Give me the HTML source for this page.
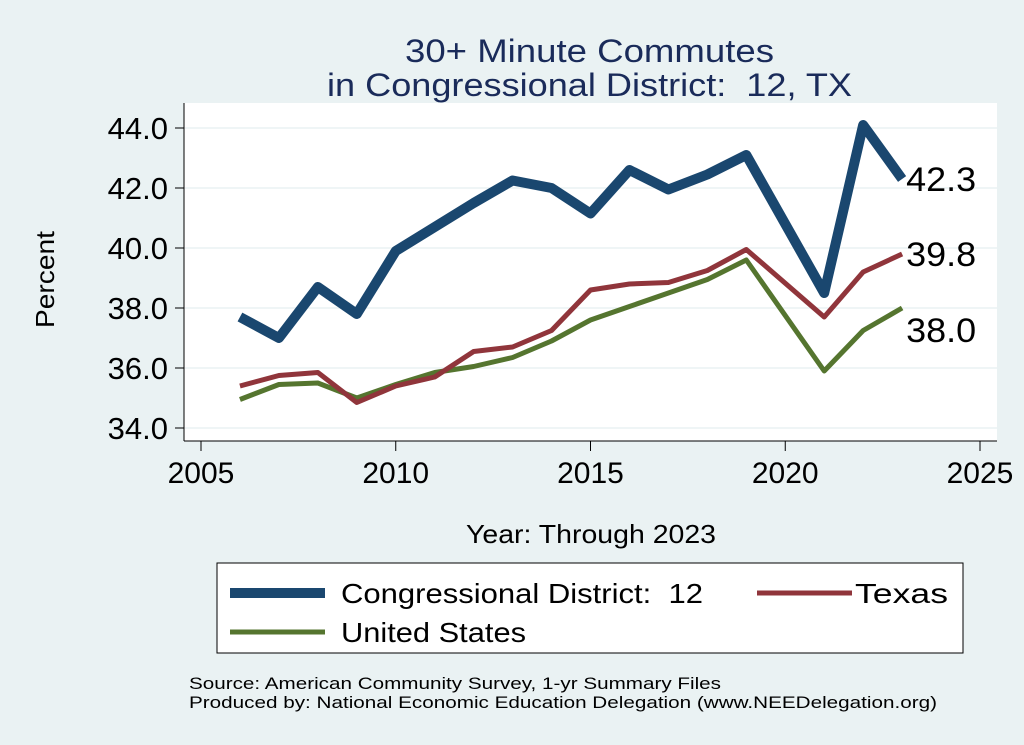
<!DOCTYPE html>
<html><head><meta charset="utf-8"><style>
body{margin:0;background:#eaf2f3;font-family:"Liberation Sans",sans-serif;}
svg{display:block}
text{white-space:pre}
</style></head><body>
<svg width="1024" height="745" xml:space="preserve">
<rect x="0" y="0" width="1024" height="745" fill="#eaf2f3"/>
<text x="405" y="62" font-size="32" fill="#1a2b5a" textLength="369" lengthAdjust="spacingAndGlyphs">30+ Minute Commutes</text>
<text x="327" y="96" font-size="32" fill="#1a2b5a" textLength="525" lengthAdjust="spacingAndGlyphs">in Congressional District:  12, TX</text>
<rect x="184" y="103" width="813" height="338" fill="#fff"/>
<g id="grid"></g><g id="axes"></g><g id="series"></g>
<text x="54" y="328" font-size="26" fill="#000" textLength="97" lengthAdjust="spacingAndGlyphs" transform="rotate(-90 54 328)">Percent</text>
<text x="466" y="543" font-size="26" fill="#000" textLength="250" lengthAdjust="spacingAndGlyphs">Year: Through 2023</text>
<rect x="217" y="563" width="746" height="90" fill="#fff" stroke="#000" stroke-width="1"/>
<line x1="230" y1="593" x2="325" y2="593" stroke="#1a476f" stroke-width="10"/>
<text x="341" y="603" font-size="28" textLength="362" lengthAdjust="spacingAndGlyphs">Congressional District:  12</text>
<line x1="757" y1="593" x2="852" y2="593" stroke="#90353b" stroke-width="5"/>
<text x="855" y="603" font-size="28" textLength="93" lengthAdjust="spacingAndGlyphs">Texas</text>
<line x1="230" y1="632" x2="325" y2="632" stroke="#55752f" stroke-width="5"/>
<text x="341" y="642" font-size="28" textLength="185" lengthAdjust="spacingAndGlyphs">United States</text>
<text x="189" y="689" font-size="17" textLength="532" lengthAdjust="spacingAndGlyphs">Source: American Community Survey, 1-yr Summary Files</text>
<text x="189" y="708" font-size="17" textLength="748" lengthAdjust="spacingAndGlyphs">Produced by: National Economic Education Delegation (www.NEEDelegation.org)</text>
</svg>
<script>
const years=[2006,2007,2008,2009,2010,2011,2012,2013,2014,2015,2016,2017,2018,2019,2021,2022,2023];
const cdValues=[37.7,37.0,38.7,37.8,39.9,40.7,41.5,42.25,42.0,41.15,42.6,41.95,42.45,43.1,38.5,44.1,42.3];
const txValues=[35.4,35.75,35.85,34.85,35.4,35.7,36.55,36.7,37.25,38.6,38.8,38.85,39.25,39.95,37.7,39.2,39.8];
const usValues=[34.95,35.45,35.5,35.0,35.45,35.85,36.05,36.35,36.9,37.6,38.05,38.5,38.95,39.6,35.9,37.25,38.0];
const xTicks=[2005,2010,2015,2020,2025];
const yTicks=[34,36,38,40,42,44];
const NS="http://www.w3.org/2000/svg";
const X=v=>201+(v-2005)*(980-201)/20;
const Y=v=>428-(v-34)*30;
function mk(tag,attrs,parent){const e=document.createElementNS(NS,tag);for(const k in attrs)e.setAttribute(k,attrs[k]);document.getElementById(parent).appendChild(e);return e;}
yTicks.forEach(t=>{
 const g=mk('line',{x1:184,x2:997,y1:Y(t),y2:Y(t),stroke:'#eaf2f3','stroke-width':1.5},'grid');
 
 
 const tk=mk('line',{x1:175,x2:184,y1:Y(t),y2:Y(t),stroke:'#000'},'axes');
 
 
 const tx=mk('text',{x:168,y:Y(t)+11,'font-size':31,'text-anchor':'end'},'axes');
 tx.textContent=t.toFixed(1);
 
 
});
xTicks.forEach(t=>{
 const tk=mk('line',{x1:X(t),x2:X(t),y1:441,y2:451,stroke:'#000'},'axes');
 
 
 const tx=mk('text',{x:X(t),y:483,'font-size':30,'text-anchor':'middle'},'axes');
 tx.textContent=t;
 
 
});
const ya=mk('line',{x1:184,x2:184,y1:103,y2:441,stroke:'#000'},'axes');


const xa=mk('line',{x1:184,x2:997,y1:441,y2:441,stroke:'#000'},'axes');


function series(vals,color,w,name,labelDy){
 const p=mk('polyline',{points:years.map((y,i)=>X(y)+','+Y(vals[i])).join(' '),fill:'none',stroke:color,'stroke-width':w,'stroke-linejoin':'round'},'series');
 
 
 const last=vals[vals.length-1];
 const t=mk('text',{x:X(years[years.length-1])+4,y:Y(last)+labelDy,'font-size':34,textLength:70,lengthAdjust:'spacingAndGlyphs'},'series');
 t.textContent=last.toFixed(1);
 
 
}
series(usValues,'#55752f',5,'us',34);
series(txValues,'#90353b',5,'texas',12);
series(cdValues,'#1a476f',10,'district',12);
</script>
</body></html>
